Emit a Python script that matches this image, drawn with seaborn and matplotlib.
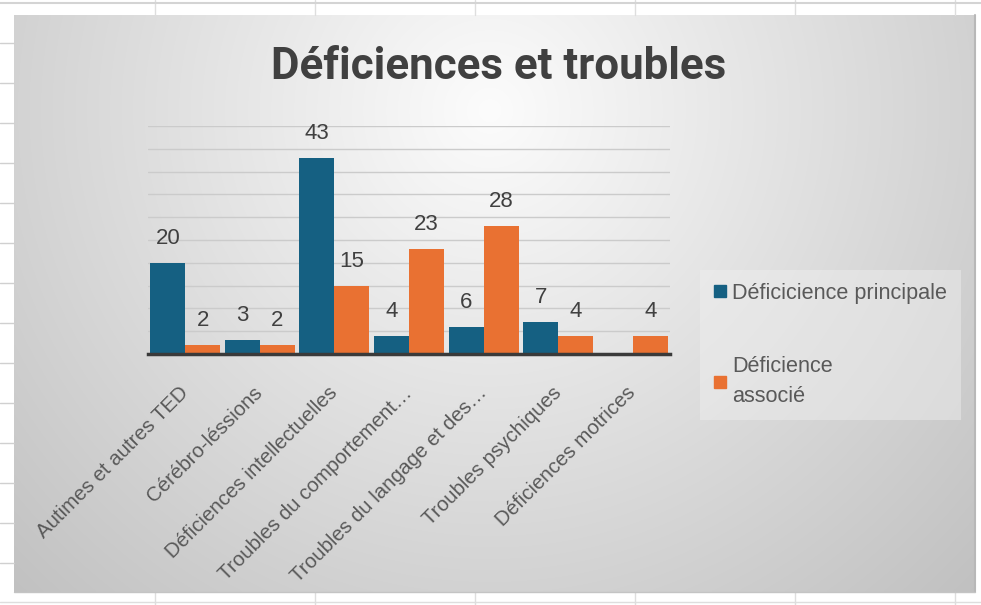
import numpy as np
import pandas as pd
import matplotlib
matplotlib.use("Agg")
import matplotlib.pyplot as plt
import seaborn as sns
from matplotlib.lines import Line2D

categories = ["Autimes et autres TED", "Cérébro-léssions", "Déficiences intellectuelles",
              "Troubles du comportement…", "Troubles du langage et des…",
              "Troubles psychiques", "Déficiences motrices"]
principale = [20, 3, 43, 4, 6, 7, 0]
associe = [2, 2, 15, 23, 28, 4, 4]
series_names = ["Déficicience principale", "Déficience associé"]
legend_labels = ["Déficicience principale", "Déficience\nassocié"]
title = "Déficiences et troubles"

BLUE = "#156082"
ORANGE = "#E97132"
W, H = 981, 605

sns.set_theme(style="white")
plt.rcParams["font.family"] = ["Liberation Sans", "DejaVu Sans"]

fig = plt.figure(figsize=(W / 100, H / 100), dpi=100)
fig.patch.set_facecolor("white")

# background: spreadsheet + chart area gradient
bg = fig.add_axes([0, 0, 1, 1])
bg.set_xlim(0, W)
bg.set_ylim(H, 0)
bg.axis("off")
cl, cr, ct, cb = 14, 975, 15, 592
for x in [155, 315, 475, 635, 795, 955]:
    bg.plot([x, x], [0, ct], color="#dedede", lw=1)
    bg.plot([x, x], [cb, H], color="#dedede", lw=1)
bg.plot([0, W], [3, 3], color="#d4d4d4", lw=1.5)
bg.plot([0, W], [602, 602], color="#dedede", lw=1)
for y in range(43, 600, 40):
    bg.plot([0, cl], [y, y], color="#d0d0d0", lw=1)

xx, yy = np.meshgrid(np.linspace(cl, cr, 400), np.linspace(ct, cb, 250))
d = np.sqrt(((xx - 490) / 600) ** 2 + ((yy - 110) / 600) ** 2)
c = np.clip(252 - 52 * d, 192, 255) / 255.0
img = np.dstack([c, c, c])
bg.imshow(img, extent=(cl, cr, cb, ct), aspect="auto", zorder=0, interpolation="bilinear")
bg.plot([cr, cr], [ct, cb], color="#b8b8b8", lw=1.5)
bg.plot([cl, cr], [cb, cb], color="#c4c4c4", lw=1)

# main plot area
left, right, top, base = 148, 670, 126, 354
ax = fig.add_axes([left / W, 1 - base / H, (right - left) / W, (base - top) / H])
ax.patch.set_alpha(0)

df = pd.DataFrame({
    "Catégorie": categories * 2,
    "Valeur": principale + associe,
    "Série": [series_names[0]] * len(categories) + [series_names[1]] * len(categories),
})
sns.barplot(data=df, x="Catégorie", y="Valeur", hue="Série", order=categories,
            hue_order=series_names, palette=[BLUE, ORANGE], width=0.94,
            saturation=1, ax=ax, legend=False, zorder=3, linewidth=0)

ax.set_ylim(0, 50)
ax.set_xlim(-0.5, len(categories) - 0.5)
ax.set_yticks(np.arange(5, 51, 5))
ax.yaxis.grid(True, color="#cbcbcb", lw=1)
ax.set_axisbelow(True)
ax.tick_params(axis="y", left=False, labelleft=False)
ax.tick_params(axis="x", bottom=False, pad=20)
for s in ["top", "right", "left"]:
    ax.spines[s].set_visible(False)
ax.spines["bottom"].set_color("#3a3a3a")
ax.spines["bottom"].set_linewidth(2.5)
ax.spines["bottom"].set_zorder(4)
ax.set_xlabel("")
ax.set_ylabel("")

ax.set_xticks(range(len(categories)))
ax.set_xticklabels(categories, rotation=45, ha="right", va="center",
                   rotation_mode="anchor", fontsize=14.8, color="#595959")

for cont in ax.containers:
    vals = [b.get_height() for b in cont]
    ax.bar_label(cont, labels=[f"{v:.0f}" if v > 0 else "" for v in vals],
                 padding=10, fontsize=16, color="#404040")

fig.text(499 / W, 1 - 67 / H, title, ha="center", va="center",
         fontsize=31.6, fontweight="bold", color="#404040", family="Roboto")

handles = [Line2D([0], [0], marker="s", linestyle="none", markersize=9,
                  markerfacecolor=col, markeredgecolor=col) for col in [BLUE, ORANGE]]
leg = fig.legend(handles, legend_labels, loc="upper left",
                 bbox_to_anchor=(700 / W, 1 - 270 / H), bbox_transform=fig.transFigure,
                 frameon=True, fancybox=False, borderaxespad=0, borderpad=0.6,
                 handlelength=0.6, handletextpad=0.3, labelspacing=2.4,
                 prop={"size": 15.6, "family": "Liberation Sans"})
leg.get_frame().set_facecolor("#f0f0f0")
leg.get_frame().set_alpha(0.45)
leg.get_frame().set_edgecolor("none")
for t in leg.get_texts():
    t.set_color("#595959")
    t.set_linespacing(1.55)

fig.savefig("out.png", dpi=100)
